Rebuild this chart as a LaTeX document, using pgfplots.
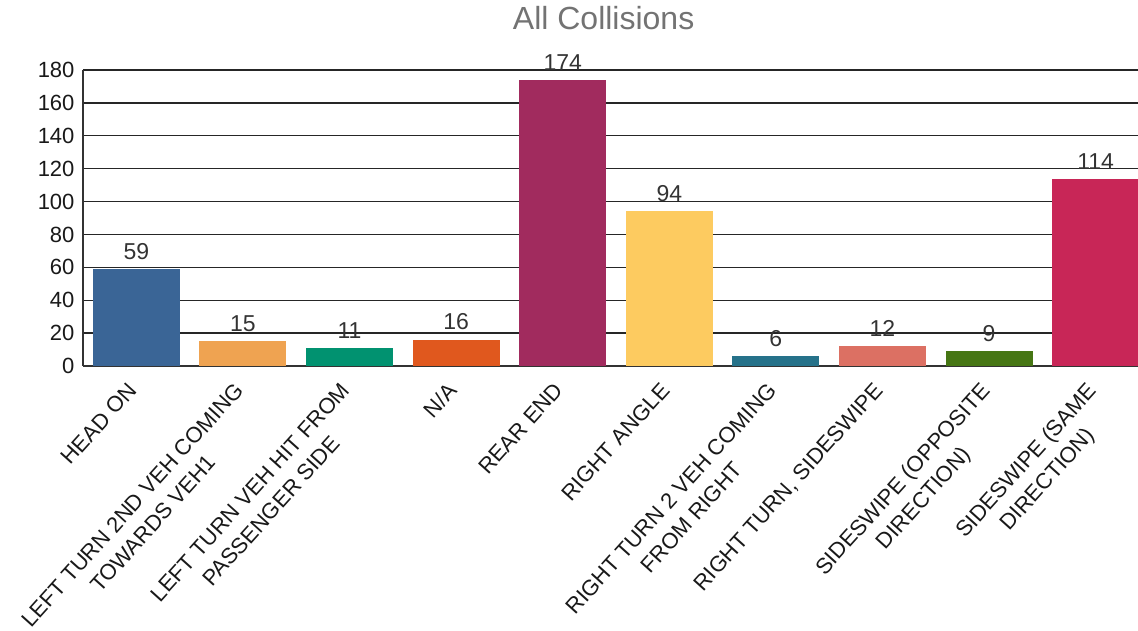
\documentclass[border=0pt]{standalone}
\usepackage{pgfplots}
\pgfplotsset{compat=1.18}
\usepackage{fontspec}
\setmainfont{Liberation Sans}

\definecolor{cHead}{HTML}{3A6596}
\definecolor{cLeft2}{HTML}{EFA351}
\definecolor{cLeftP}{HTML}{019270}
\definecolor{cNA}{HTML}{E0581E}
\definecolor{cRear}{HTML}{A12B5E}
\definecolor{cRAng}{HTML}{FDCB60}
\definecolor{cRT2}{HTML}{26728A}
\definecolor{cRTS}{HTML}{DC7063}
\definecolor{cSSO}{HTML}{467614}
\definecolor{cSSS}{HTML}{C82657}

\begin{document}
\begin{tikzpicture}
% page = axis box plus the room around it in the reference
\useasboundingbox (-83pt,-264pt) rectangle (1055pt,366pt);
\begin{axis}[
    name=ax,
    at={(0,0)}, anchor=south west,
    scale only axis,
    width=1055pt, height=296pt,
    xmin=-0.5, xmax=9.397,
    ymin=0, ymax=180,
    ytick={0,20,...,180},
    xtick={0,...,9},
    xticklabels={HEAD ON,
      {LEFT TURN 2ND VEH COMING\\TOWARDS VEH1},
      {LEFT TURN VEH HIT FROM\\PASSENGER SIDE},
      N/A, REAR END, RIGHT ANGLE,
      {RIGHT TURN 2 VEH COMING\\FROM RIGHT},
      {RIGHT TURN, SIDESWIPE},
      {SIDESWIPE (OPPOSITE\\DIRECTION)},
      {SIDESWIPE (SAME\\DIRECTION)}},
    x tick label style={xshift=-10pt, yshift=-12pt, rotate=48,
      anchor=north east, align=center,
      font=\fontsize{22}{28}\selectfont, text=black!90, inner sep=2pt},
    y tick label style={font=\fontsize{22}{26}\selectfont, text=black!90,
      xshift=-5pt},
    /pgf/number format/assume math mode=true,
    major tick length=0pt,
    axis lines*=left,
    axis line style={black!80, line width=1.3pt},
    ymajorgrids=true,
    grid style={black!85, line width=1.3pt},
    title={All Collisions},
    title style={at={(0.4935,1)}, anchor=base, yshift=35pt,
      font=\fontsize{32}{36}\selectfont, text=black!55},
    ybar, bar width=87pt,
    every axis plot/.append style={bar shift=0pt, draw=none},
    nodes near coords,
    nodes near coords style={font=\fontsize{23}{26}\selectfont, text=black!80,
      yshift=6pt},
]
\addplot[fill=cHead]  coordinates {(0,59)};
\addplot[fill=cLeft2] coordinates {(1,15)};
\addplot[fill=cLeftP] coordinates {(2,11)};
\addplot[fill=cNA]    coordinates {(3,16)};
\addplot[fill=cRear]  coordinates {(4,174)};
\addplot[fill=cRAng]  coordinates {(5,94)};
\addplot[fill=cRT2]   coordinates {(6,6)};
\addplot[fill=cRTS]   coordinates {(7,12)};
\addplot[fill=cSSO]   coordinates {(8,9)};
\addplot[fill=cSSS]   coordinates {(9,114)};
\end{axis}
\end{tikzpicture}
\end{document}
